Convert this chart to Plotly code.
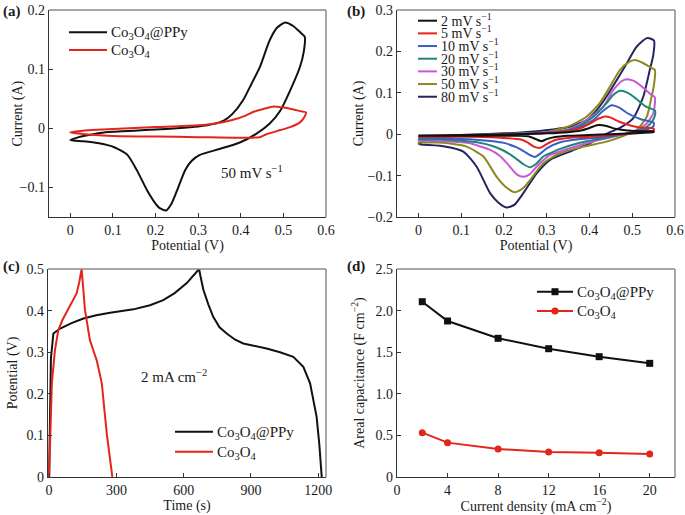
import plotly.graph_objects as go

W, H = 685, 515
FONT = "Liberation Serif"
RED = "#e3261c"

# ---------------- Panel (a): CV at 50 mV/s ----------------
a_pp_v = [0.000, 0.020, 0.040, 0.070, 0.100, 0.150, 0.200, 0.250, 0.300, 0.335, 0.360, 0.380,
          0.405, 0.425, 0.445, 0.468, 0.485, 0.504, 0.523, 0.540, 0.550,
          0.548, 0.539, 0.516, 0.493, 0.468, 0.437, 0.398, 0.350, 0.304, 0.285, 0.270, 0.250,
          0.237, 0.225, 0.212, 0.204, 0.181, 0.157, 0.134, 0.103, 0.064, 0.030, 0.000]
a_pp_i = [-0.020, -0.015, -0.012, -0.008, -0.006, -0.004, -0.002, 0.000, 0.003, 0.007, 0.013, 0.024,
          0.047, 0.075, 0.104, 0.149, 0.170, 0.179, 0.173, 0.162, 0.155,
          0.130, 0.104, 0.064, 0.030, 0.008, -0.009, -0.024, -0.035, -0.045, -0.055, -0.070, -0.106,
          -0.128, -0.139, -0.136, -0.131, -0.106, -0.072, -0.045, -0.032, -0.025, -0.022, -0.020]
a_co_v = [0.000, 0.020, 0.050, 0.100, 0.200, 0.300, 0.340, 0.380, 0.410, 0.430, 0.455, 0.477, 0.500,
          0.516, 0.540, 0.553,
          0.550, 0.539, 0.516, 0.493, 0.460, 0.445, 0.400, 0.300, 0.200, 0.100, 0.050, 0.020, 0.000]
a_co_i = [-0.007, -0.005, -0.003, -0.001, 0.002, 0.005, 0.008, 0.014, 0.021, 0.028, 0.033, 0.037, 0.035,
          0.033, 0.029, 0.027,
          0.020, 0.010, 0.002, -0.003, -0.010, -0.015, -0.016, -0.015, -0.014, -0.013, -0.011, -0.009, -0.007]

# ---------------- Panel (b): CV at several scan rates ----------------
b_labels = ["2 mV s<sup>−1</sup>", "5 mV s<sup>−1</sup>", "10 mV s<sup>−1</sup>", "20 mV s<sup>−1</sup>",
            "30 mV s<sup>−1</sup>", "50 mV s<sup>−1</sup>", "80 mV s<sup>−1</sup>"]
b_colors = ["#111111", "#e8231c", "#3a5ec4", "#1f857c", "#c957d6", "#8a8a1c", "#24245e"]

b_v_2 = [0, 0.1, 0.2, 0.3, 0.35, 0.38, 0.40, 0.42, 0.44, 0.46, 0.49, 0.52, 0.55,
         0.55, 0.5, 0.45, 0.40, 0.35, 0.32, 0.30, 0.288, 0.275, 0.26, 0.24, 0.2, 0.1, 0]
b_i_2 = [-0.003, -0.002, -0.001, 0.002, 0.005, 0.009, 0.015, 0.022, 0.020, 0.013, 0.009, 0.007, 0.007,
         0.005, 0.002, 0.000, -0.002, -0.004, -0.007, -0.012, -0.017, -0.012, -0.006, -0.004, -0.004, -0.004, -0.004]

b_v_5 = [0, 0.1, 0.2, 0.3, 0.35, 0.38, 0.40, 0.42, 0.436, 0.45, 0.47, 0.50, 0.53, 0.55,
         0.55, 0.52, 0.48, 0.44, 0.40, 0.35, 0.32, 0.30, 0.285, 0.27, 0.255, 0.24, 0.2, 0.15, 0.1, 0]
b_i_5 = [-0.005, -0.003, -0.001, 0.003, 0.008, 0.015, 0.025, 0.037, 0.043, 0.040, 0.030, 0.020, 0.015, 0.014,
         0.010, 0.004, 0.000, -0.003, -0.006, -0.009, -0.014, -0.024, -0.033, -0.030, -0.020, -0.013, -0.009,
         -0.007, -0.006, -0.006]

b_v_10 = [0, 0.1, 0.2, 0.3, 0.35, 0.38, 0.41, 0.43, 0.452, 0.47, 0.49, 0.52, 0.55,
          0.55, 0.53, 0.5, 0.46, 0.42, 0.37, 0.33, 0.30, 0.285, 0.272, 0.26, 0.245, 0.23, 0.2, 0.175,
          0.12, 0.05, 0]
b_i_10 = [-0.008, -0.004, -0.001, 0.003, 0.009, 0.018, 0.035, 0.055, 0.070, 0.064, 0.050, 0.036, 0.028,
          0.020, 0.010, 0.003, -0.003, -0.008, -0.013, -0.020, -0.034, -0.047, -0.055, -0.050, -0.040,
          -0.032, -0.021, -0.017, -0.012, -0.010, -0.009]

b_v_20 = [0, 0.05, 0.1, 0.2, 0.3, 0.35, 0.38, 0.41, 0.44, 0.455, 0.471, 0.49, 0.51, 0.53, 0.553,
          0.553, 0.546, 0.53, 0.5, 0.46, 0.42, 0.38, 0.33, 0.31, 0.292, 0.275, 0.261, 0.245, 0.222,
          0.2, 0.175, 0.14, 0.1, 0.05, 0]
b_i_20 = [-0.012, -0.006, -0.003, 0.000, 0.004, 0.010, 0.022, 0.043, 0.075, 0.094, 0.105, 0.100, 0.085,
          0.068, 0.057,
          0.045, 0.030, 0.015, 0.005, -0.004, -0.012, -0.020, -0.036, -0.045, -0.054, -0.072, -0.080,
          -0.072, -0.054, -0.040, -0.029, -0.020, -0.016, -0.013, -0.012]

b_v_30 = [0, 0.05, 0.1, 0.2, 0.3, 0.35, 0.393, 0.432, 0.456, 0.475, 0.487, 0.505, 0.526, 0.545, 0.553,
          0.553, 0.549, 0.534, 0.51, 0.48, 0.44, 0.40, 0.354, 0.33, 0.308, 0.29, 0.277, 0.26, 0.245,
          0.23, 0.207, 0.19, 0.168, 0.14, 0.121, 0.06, 0]
b_i_30 = [-0.015, -0.008, -0.004, 0.000, 0.005, 0.011, 0.034, 0.066, 0.107, 0.128, 0.133, 0.128, 0.112,
          0.095, 0.089,
          0.075, 0.050, 0.026, 0.010, 0.000, -0.010, -0.020, -0.034, -0.042, -0.050, -0.065, -0.078,
          -0.097, -0.103, -0.097, -0.070, -0.052, -0.038, -0.028, -0.022, -0.017, -0.015]

b_v_50 = [0, 0.03, 0.1, 0.2, 0.3, 0.354, 0.393, 0.424, 0.448, 0.471, 0.49, 0.506, 0.525, 0.545, 0.553,
          0.551, 0.545, 0.534, 0.51, 0.48, 0.44, 0.386, 0.331, 0.292, 0.261, 0.245, 0.226, 0.205,
          0.183, 0.152, 0.113, 0.07, 0.043, 0]
b_i_50 = [-0.020, -0.010, -0.004, 0.000, 0.005, 0.020, 0.042, 0.075, 0.115, 0.155, 0.173, 0.179, 0.172,
          0.160, 0.155,
          0.120, 0.090, 0.042, 0.010, -0.004, -0.018, -0.030, -0.046, -0.070, -0.111, -0.130, -0.140,
          -0.128, -0.103, -0.054, -0.030, -0.022, -0.020, -0.020]

b_v_80 = [0, 0.02, 0.05, 0.1, 0.2, 0.284, 0.354, 0.393, 0.417, 0.44, 0.464, 0.487, 0.51, 0.534, 0.545,
          0.551,
          0.549, 0.541, 0.526, 0.502, 0.471, 0.448, 0.42, 0.401, 0.354, 0.308, 0.277, 0.245, 0.225,
          0.207, 0.188, 0.168, 0.136, 0.105, 0.058, 0.004]
b_i_80 = [-0.025, -0.012, -0.006, -0.002, 0.002, 0.008, 0.018, 0.034, 0.058, 0.091, 0.131, 0.171, 0.211,
          0.232, 0.230, 0.226,
          0.190, 0.155, 0.091, 0.038, 0.015, 0.005, -0.010, -0.022, -0.042, -0.062, -0.094, -0.143,
          -0.170, -0.177, -0.166, -0.143, -0.078, -0.042, -0.029, -0.025]

b_v = [b_v_2, b_v_5, b_v_10, b_v_20, b_v_30, b_v_50, b_v_80]
b_i = [b_i_2, b_i_5, b_i_10, b_i_20, b_i_30, b_i_50, b_i_80]

# ---------------- Panel (c): GCD at 2 mA cm-2 ----------------
c_pp_t = [0, 2, 4, 8, 19, 49, 100, 153, 210, 272, 376, 450, 509, 560, 614, 645, 669,
          676, 688, 710, 732, 760, 792, 830, 866, 970, 1030, 1089, 1112, 1134, 1164, 1180, 1193,
          1205, 1216]
c_pp_u = [0, 0.10, 0.20, 0.285, 0.345, 0.357, 0.370, 0.381, 0.389, 0.395, 0.403, 0.413, 0.425,
          0.442, 0.466, 0.485, 0.500,
          0.480, 0.450, 0.415, 0.385, 0.360, 0.345, 0.330, 0.321, 0.309, 0.300, 0.289, 0.277,
          0.265, 0.225, 0.185, 0.145, 0.080, 0]
c_co_t = [0, 6, 12, 26, 41, 60, 78, 100, 123, 135, 145,
          160, 182, 200, 212, 225, 235, 257, 282]
c_co_u = [0, 0.10, 0.225, 0.305, 0.353, 0.378, 0.397, 0.418, 0.442, 0.470, 0.500,
          0.401, 0.329, 0.300, 0.281, 0.250, 0.225, 0.105, 0]

# ---------------- Panel (d): areal capacitance ----------------
d_density = [2, 4, 8, 12, 16, 20]
d_pp_cap = [2.107, 1.875, 1.667, 1.542, 1.446, 1.366]
d_co_cap = [0.533, 0.413, 0.337, 0.300, 0.292, 0.276]

name_pp = "Co<sub>3</sub>O<sub>4</sub>@PPy"
name_co = "Co<sub>3</sub>O<sub>4</sub>"

fig = go.Figure()

CV_LINE = dict(shape="spline", smoothing=0.6, width=2)

fig.add_trace(go.Scatter(x=a_pp_v, y=a_pp_i, mode="lines", name=name_pp,
                         line=dict(color="#111111", **CV_LINE), xaxis="x", yaxis="y"))
fig.add_trace(go.Scatter(x=a_co_v, y=a_co_i, mode="lines", name=name_co,
                         line=dict(color=RED, **CV_LINE), xaxis="x", yaxis="y"))

for k in reversed(range(len(b_labels))):
    fig.add_trace(go.Scatter(x=b_v[k], y=b_i[k], mode="lines", name=b_labels[k],
                             line=dict(color=b_colors[k], **CV_LINE), xaxis="x2", yaxis="y2"))

fig.add_trace(go.Scatter(x=c_pp_t, y=c_pp_u, mode="lines", name=name_pp,
                         line=dict(color="#111111", width=2), xaxis="x3", yaxis="y3"))
fig.add_trace(go.Scatter(x=c_co_t, y=c_co_u, mode="lines", name=name_co,
                         line=dict(color=RED, width=2), xaxis="x3", yaxis="y3"))

fig.add_trace(go.Scatter(x=d_density, y=d_pp_cap, mode="lines+markers", name=name_pp,
                         line=dict(color="#111111", width=2),
                         marker=dict(symbol="square", size=7, color="#111111"),
                         xaxis="x4", yaxis="y4"))
fig.add_trace(go.Scatter(x=d_density, y=d_co_cap, mode="lines+markers", name=name_co,
                         line=dict(color=RED, width=2),
                         marker=dict(symbol="circle", size=7, color=RED),
                         xaxis="x4", yaxis="y4"))


def px_x(px):
    return px / W


def px_y(py):
    return 1 - py / H


tickfont = dict(family=FONT, size=14, color="#1a1a1a")
titlefont = dict(family=FONT, size=14, color="#1a1a1a")


def axis(domain, rng, tickvals, ticktext, title, anchor, standoff):
    return dict(domain=domain, range=rng, tickmode="array", tickvals=tickvals, ticktext=ticktext,
                showgrid=False, zeroline=False, showline=True, linecolor="#333333", linewidth=1.3,
                ticks="inside", ticklen=4, tickwidth=1, tickcolor="#333333", tickfont=tickfont,
                ticklabeloverflow="allow",
                title=dict(text=title, font=titlefont, standoff=standoff), anchor=anchor,
                automargin=False, fixedrange=True)


cv_x_vals = [0, 0.1, 0.2, 0.3, 0.4, 0.5, 0.6]
cv_x_text = ["0", "0.1", "0.2", "0.3", "0.4", "0.5", "0.6"]

dom_ax = [px_x(49), px_x(326)]
dom_bx = [px_x(397), px_x(675)]
dom_cx = [px_x(48), px_x(326)]
dom_top = [px_y(217), px_y(10)]
dom_bot = [px_y(477), px_y(269)]

fig.update_layout(
    width=W, height=H, margin=dict(l=0, r=0, t=0, b=0),
    paper_bgcolor="white", plot_bgcolor="white", showlegend=False,
    font=dict(family=FONT, color="#1a1a1a"),
    xaxis=axis(dom_ax, [-0.05, 0.6], cv_x_vals, cv_x_text, "Potential (V)", "y", 0),
    yaxis=axis(dom_top, [-0.15, 0.2], [-0.1, 0, 0.1, 0.2], ["−0.1", "0", "0.1", "0.2"],
               "", "x", 0),
    xaxis2=axis(dom_bx, [-0.05, 0.6], cv_x_vals, cv_x_text, "Potential (V)", "y2", 0),
    yaxis2=axis(dom_top, [-0.2, 0.3], [-0.2, -0.1, 0, 0.1, 0.2, 0.3],
                ["−0.2", "−0.1", "0", "0.1", "0.2", "0.3"], "Current (A)", "x2", 0),
    xaxis3=axis(dom_cx, [-5, 1235], [0, 300, 600, 900, 1200], ["0", "300", "600", "900", "1200"],
                "Time (s)", "y3", 3),
    yaxis3=axis(dom_bot, [0, 0.5], [0, 0.1, 0.2, 0.3, 0.4, 0.5],
                ["0", "0.1", "0.2", "0.3", "0.4", "0.5"], "Potential (V)", "x3", 5),
    xaxis4=axis(dom_bx, [0, 22], [0, 4, 8, 12, 16, 20], ["0", "4", "8", "12", "16", "20"],
                "Current density (mA cm<sup>−2</sup>)", "y4", 7),
    yaxis4=axis(dom_bot, [0, 2.5], [0, 0.5, 1.0, 1.5, 2.0, 2.5],
                ["0", "0.5", "1.0", "1.5", "2.0", "2.5"], "Areal capacitance (F cm<sup>−2</sup>)", "x4", 7),
)

shapes = []
annotations = []

# gray top/right frame lines
for xa, ya in [("x", "y"), ("x2", "y2"), ("x3", "y3"), ("x4", "y4")]:
    shapes.append(dict(type="line", xref=f"{xa} domain", yref=f"{ya} domain", x0=0, x1=1, y0=1, y1=1,
                       line=dict(color="#8a8a8a", width=1.5)))
    shapes.append(dict(type="line", xref=f"{xa} domain", yref=f"{ya} domain", x0=1, x1=1, y0=0, y1=1,
                       line=dict(color="#8a8a8a", width=1.5)))

legend_font = dict(family=FONT, size=15, color="#1a1a1a")
legend_font_b = dict(family=FONT, size=14, color="#1a1a1a")


def legend_entry(x0, x1, y, color, text, marker=None, dy=0, font=legend_font):
    shapes.append(dict(type="line", xref="paper", yref="paper", x0=px_x(x0), x1=px_x(x1),
                       y0=px_y(y), y1=px_y(y), line=dict(color=color, width=2)))
    if marker == "square":
        c = (x0 + x1) / 2
        shapes.append(dict(type="rect", xref="paper", yref="paper", x0=px_x(c - 3.5), x1=px_x(c + 3.5),
                           y0=px_y(y + 3.5), y1=px_y(y - 3.5), fillcolor=color, line=dict(width=0)))
    elif marker == "circle":
        c = (x0 + x1) / 2
        shapes.append(dict(type="circle", xref="paper", yref="paper", x0=px_x(c - 3.6), x1=px_x(c + 3.6),
                           y0=px_y(y + 3.6), y1=px_y(y - 3.6), fillcolor=color, line=dict(width=0)))
    annotations.append(dict(xref="paper", yref="paper", x=px_x(x1 + 2), y=px_y(y + dy), text=text,
                            xanchor="left", yanchor="middle", showarrow=False, font=font))


# panel (a) legend
legend_entry(69, 107, 32.3, "#111111", name_pp, dy=1)
legend_entry(69, 107, 50, RED, name_co, dy=1)

# panel (b) legend
for k in range(len(b_labels)):
    legend_entry(418, 437, 20.7 + 12.67 * k, b_colors[k], b_labels[k], dy=-1, font=legend_font_b)

# panel (c) legend
legend_entry(175, 213, 431.7, "#111111", name_pp, dy=1)
legend_entry(175, 213, 451.7, RED, name_co, dy=1)

# panel (d) legend
legend_entry(537, 573, 291.7, "#111111", name_pp, marker="square", dy=1)
legend_entry(537, 573, 311, RED, name_co, marker="circle", dy=1)

# panel (a) y-axis title (placed closer to the axis than plotly's standoff allows)
annotations.append(dict(xref="paper", yref="paper", x=px_x(17), y=px_y(113.5), text="Current (A)",
                        textangle=-90, xanchor="center", yanchor="middle", showarrow=False,
                        font=titlefont))

# panel labels
for lab, x, y in [("(a)", 1, 12), ("(b)", 345, 12), ("(c)", 1, 266), ("(d)", 345, 266)]:
    annotations.append(dict(xref="paper", yref="paper", x=px_x(x), y=px_y(y), text=f"<b>{lab}</b>",
                            xanchor="left", yanchor="middle", showarrow=False,
                            font=dict(family=FONT, size=15, color="#1a1a1a")))

# condition notes
annotations.append(dict(xref="paper", yref="paper", x=px_x(252), y=px_y(172), text="50 mV s<sup>−1</sup>",
                        xanchor="center", yanchor="middle", showarrow=False, font=legend_font))
annotations.append(dict(xref="paper", yref="paper", x=px_x(174), y=px_y(376), text="2 mA cm<sup>−2</sup>",
                        xanchor="center", yanchor="middle", showarrow=False, font=legend_font))

fig.update_layout(shapes=shapes, annotations=annotations)

# remove the default page margin so the 685x515 figure fills the window exactly
fig.write_html("out.html", config={"displayModeBar": False, "staticPlot": True},
               post_script="document.body.style.margin='0';document.body.style.overflow='hidden';")
